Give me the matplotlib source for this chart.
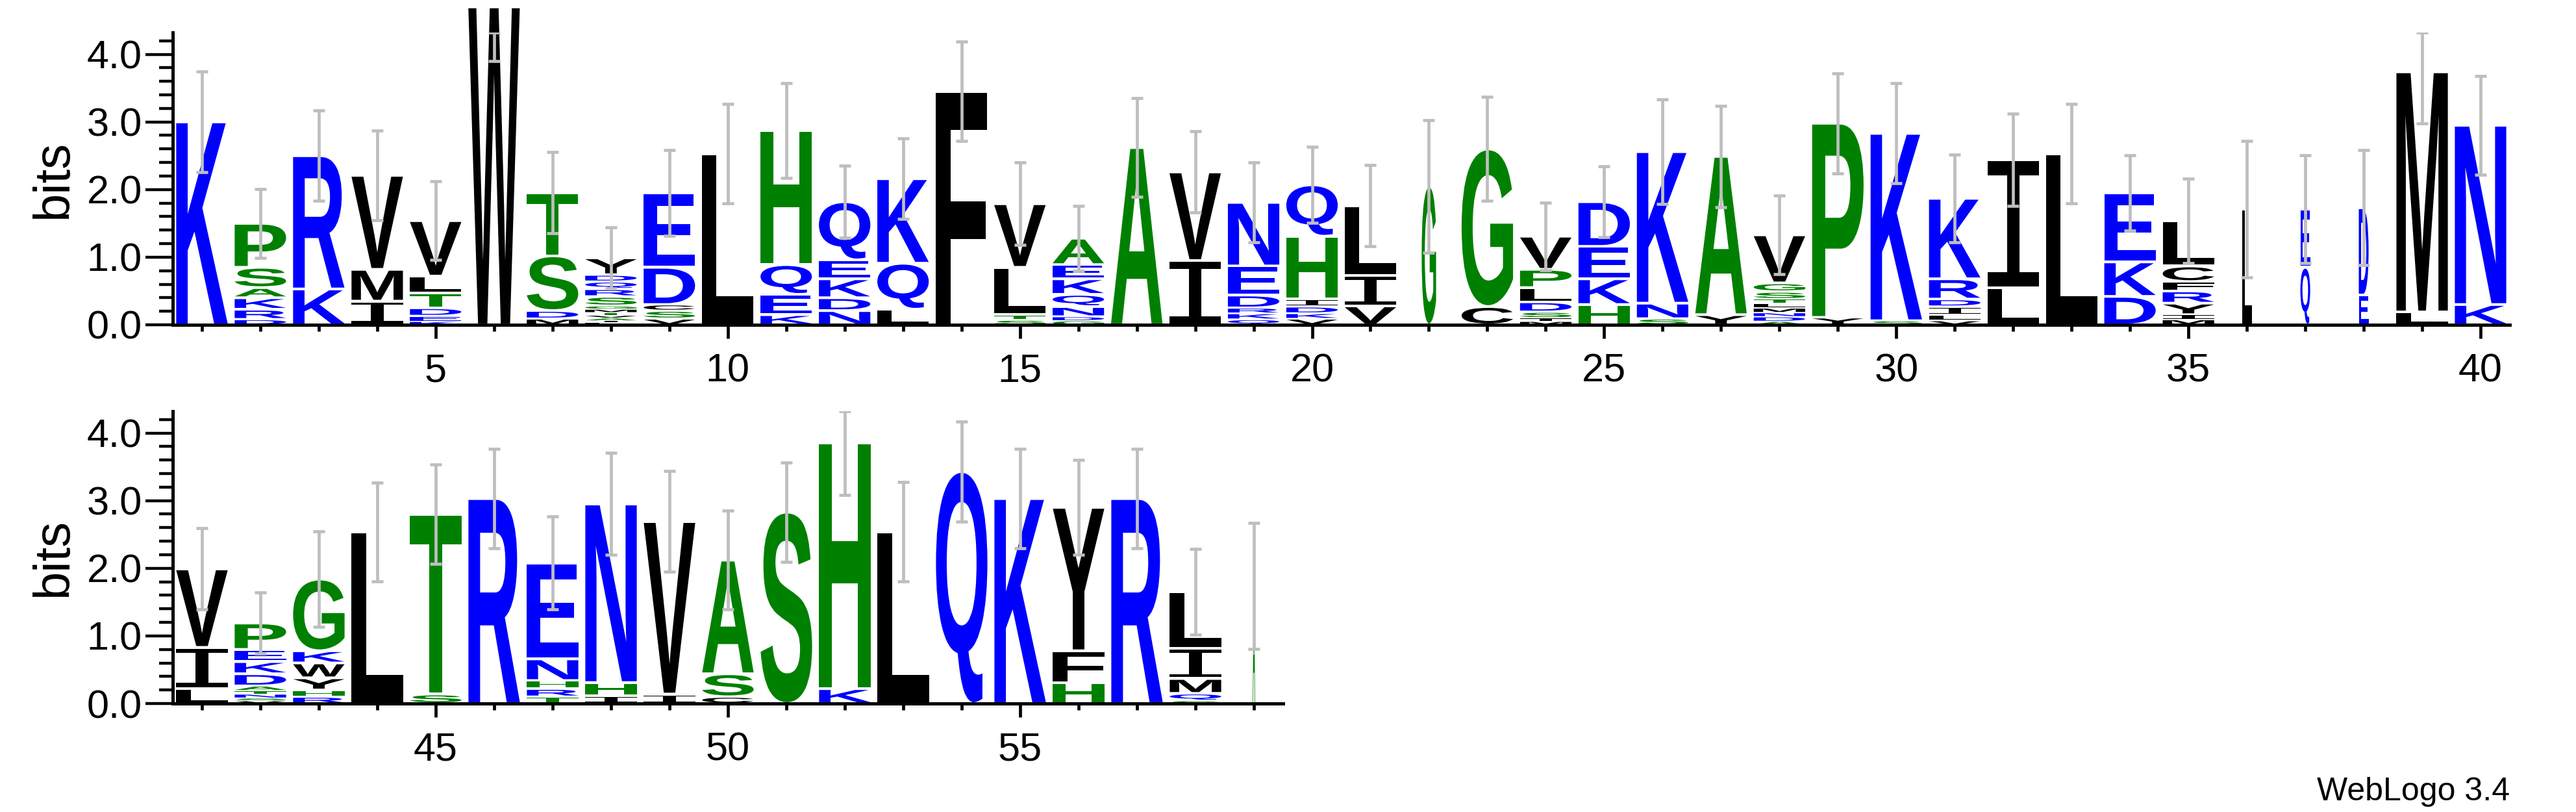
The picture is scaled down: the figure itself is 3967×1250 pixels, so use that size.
import numpy as np
import matplotlib
matplotlib.use("Agg")
import matplotlib.pyplot as plt
from matplotlib.textpath import TextPath
from matplotlib.patches import PathPatch
from matplotlib.font_manager import FontProperties
from matplotlib.transforms import Affine2D
from matplotlib.ticker import MultipleLocator, FormatStrFormatter

plt.rcParams['font.family'] = ['Liberation Sans', 'DejaVu Sans']

# letters of every column, bottom to top
letters = ["K", "DRKASP", "KR", "IMV", "KEDTLV", "W", "MDST", "LIAVTMGSRQDY", "VSCDE", "L",
           "KEQH", "NDKEQ", "LQK", "F", "STLV", "GDNQKEA", "A", "IV", "QKRDEN", "VKDIHQ",
           "VIL", "G", "CG", "MISDLPV", "HKED", "SNK", "YA", "ADNMLTSGV", "YP", "SK",
           "VLIDRK", "LI", "L", "DKE", "MIYRFCL", "L", "QE", "ED", "LM", "KN",
           "LIV", "VSNTADKEP", "RHYWKG", "L", "ST", "R", "TRHNE", "IHN", "IV", "CSA",
           "S", "KH", "L", "Q", "K", "HFY", "R", "SQMIL", "A"]

# height of each letter (bits), same order
heights = [
    [3.0], [0.08, 0.15, 0.17, 0.15, 0.30, 0.65], [0.53, 1.97], [0.35, 0.47, 1.39],
    [0.05, 0.08, 0.12, 0.22, 0.25, 0.82], [4.7], [0.09, 0.12, 0.81, 0.93],
    [0.03, 0.03, 0.04, 0.04, 0.04, 0.05, 0.05, 0.14, 0.11, 0.11, 0.10, 0.25],
    [0.09, 0.12, 0.09, 0.55, 1.10], [2.53],
    [0.15, 0.30, 0.44, 1.98], [0.21, 0.19, 0.28, 0.28, 0.86], [0.23, 0.68, 1.25], [3.45],
    [0.07, 0.08, 0.70, 0.94], [0.06, 0.06, 0.15, 0.18, 0.23, 0.21, 0.39], [2.62], [0.95, 1.31],
    [0.08, 0.09, 0.08, 0.19, 0.43, 0.94], [0.09, 0.08, 0.10, 0.11, 0.93, 0.76],
    [0.28, 0.45, 1.03], [2.05], [0.27, 2.33], [0.05, 0.05, 0.09, 0.15, 0.21, 0.27, 0.49],
    [0.30, 0.38, 0.48, 0.66], [0.09, 0.23, 2.24], [0.15, 2.34],
    [0.05, 0.07, 0.06, 0.07, 0.07, 0.06, 0.11, 0.13, 0.71], [0.11, 2.87], [0.06, 2.77],
    [0.06, 0.09, 0.12, 0.11, 0.30, 1.19], [0.55, 1.89], [2.53], [0.42, 0.51, 1.02],
    [0.08, 0.07, 0.17, 0.18, 0.14, 0.23, 0.67], [1.71], [0.85, 0.86], [0.44, 1.29],
    [0.19, 3.55], [0.30, 2.65],
    [0.22, 0.61, 1.16], [0.04, 0.04, 0.06, 0.05, 0.07, 0.18, 0.18, 0.18, 0.39],
    [0.10, 0.10, 0.18, 0.22, 0.18, 1.06], [2.54], [0.14, 2.66], [3.03],
    [0.10, 0.12, 0.12, 0.32, 1.42], [0.11, 0.20, 2.64], [0.14, 2.55], [0.10, 0.34, 1.68],
    [2.83], [0.22, 3.63], [2.54], [3.43], [3.03], [0.31, 0.47, 2.12], [3.03],
    [0.04, 0.11, 0.22, 0.45, 0.83], [1.74],
]

# half size of the error bar on top of each column
errors = [0.745, 0.51, 0.67, 0.66, 0.58, 0.8, 0.6, 0.455, 0.63, 0.735,
          0.70, 0.535, 0.595, 0.735, 0.61, 0.48, 0.73, 0.6, 0.59, 0.565,
          0.6, 0.98, 0.77, 0.5, 0.52, 0.77, 0.75, 0.585, 0.74, 0.74,
          0.65, 0.68, 0.735, 0.555, 0.625, 1.01, 0.8, 0.85, 0.76, 0.73,
          0.6, 0.455, 0.705, 0.73, 0.735, 0.735, 0.69, 0.755, 0.745, 0.73,
          0.735, 0.77, 0.735, 0.74, 0.735, 0.7, 0.735, 0.635, 0.93]

# relative column widths (gappy columns are narrower)
col_width = [1.0] * 59
col_width[21] = 0.28
col_width[35] = 0.19
col_width[36] = 0.19
col_width[37] = 0.19
col_width[58] = 0.045

positions = np.arange(1, 60)

colors = {}
for c in "RKDENQ":
    colors[c] = "#0000ff"
for c in "SGHTAP":
    colors[c] = "#008000"
for c in "YVMCLFIW":
    colors[c] = "#000000"

fp = FontProperties(family="Liberation Sans", weight="bold")
fp_i = FontProperties(family="DejaVu Sans Mono")
maxbits = np.log2(20)


def letter(ax, ch, x, y0, w, h):
    tp = TextPath((0, 0), ch, size=1, prop=fp_i if ch == "I" else fp)
    bb = tp.get_extents()
    t = Affine2D().translate(-bb.x0, -bb.y0).scale(w / bb.width, h / bb.height).translate(x - w / 2, y0)
    ax.add_patch(PathPatch(t.transform_path(tp), fc=colors[ch], ec="none", lw=0, clip_on=False, zorder=2))


def logo_row(ax, first, last):
    for i in range(first - 1, last):
        x = positions[i]
        w = 0.88 * col_width[i]
        y = 0.0
        for ch, h in zip(letters[i], heights[i]):
            pad = min(0.02, h * 0.15)
            letter(ax, ch, x, y + pad, w, h - 2 * pad)
            y += h
        lo = y - errors[i]
        hi = min(y + errors[i], maxbits)
        # grey error bar with caps
        ax.vlines(x, lo, hi, colors="#bebebe", lw=3.4, zorder=3)
        ax.hlines([lo, hi], x - 0.1, x + 0.1, colors="#bebebe", lw=3.4, zorder=3)

    ax.set_xlim(first - 0.5, last + 0.5)
    ax.set_ylim(0, maxbits)
    for s in ["top", "right"]:
        ax.spines[s].set_visible(False)
    for s in ["left", "bottom"]:
        ax.spines[s].set_linewidth(3.6)
    ax.yaxis.set_major_locator(MultipleLocator(1))
    ax.yaxis.set_minor_locator(MultipleLocator(0.2))
    ax.yaxis.set_major_formatter(FormatStrFormatter("%.1f"))
    ax.xaxis.set_major_locator(MultipleLocator(5))
    ax.xaxis.set_minor_locator(MultipleLocator(1))
    ax.tick_params(axis="y", which="major", length=30, width=3.2, labelsize=44, pad=4)
    ax.tick_params(axis="y", which="minor", length=15, width=3.2)
    ax.tick_params(axis="x", which="major", length=15, width=3.4, labelsize=44, pad=16)
    ax.tick_params(axis="x", which="minor", length=7, width=3.4)
    ax.set_ylabel("bits", fontsize=56)


fig = plt.figure(figsize=(39.67, 12.5), dpi=100)
ax1 = fig.add_axes([266 / 3967, 1 - 500 / 1250, 3599 / 3967, 450 / 1250])
ax2 = fig.add_axes([266 / 3967, 1 - 1083 / 1250, 1710 / 3967, 450 / 1250])

logo_row(ax1, 1, 40)
logo_row(ax2, 41, 59)
ax1.yaxis.set_label_coords((119 - 266) / 3599, 0.5)
ax2.yaxis.set_label_coords((119 - 266) / 1710, 0.5)

fig.text(3865 / 3967, 1 - 1232 / 1250, "WebLogo 3.4", ha="right", va="baseline", fontsize=36)

fig.savefig("out.png", dpi=100)
